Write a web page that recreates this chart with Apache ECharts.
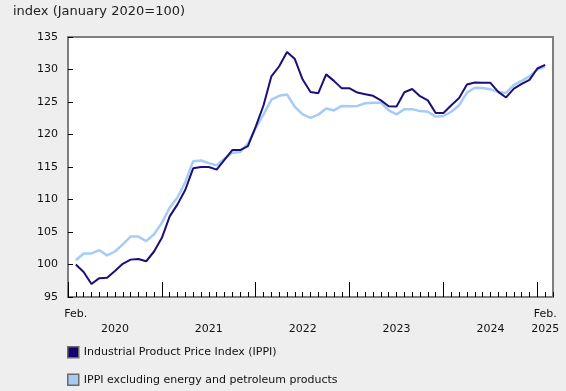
<!DOCTYPE html>
<html>
<head>
<meta charset="utf-8">
<script src="https://cdn.jsdelivr.net/npm/echarts@6/dist/echarts.min.js"></script>
<style>
html,body{margin:0;padding:0;background:#eeeeee;}
#chart{width:566px;height:391px;}
</style>
</head>
<body>
<div id="chart"></div>
<script>
// Months Feb 2020 .. Feb 2025 (61 points); axis position 0 = Jan 2020
var startIndex = 1;
var ippi = [
  100.0, 98.85, 97.0, 97.9, 97.95, 99.0, 100.1, 100.75, 100.85, 100.5, 102.0, 104.1,
  107.4, 109.25, 111.5, 114.8, 115.0, 115.0, 114.6, 116.1, 117.6, 117.6, 118.2, 121.2,
  124.5, 128.95, 130.5, 132.7, 131.6, 128.45, 126.55, 126.35, 129.25, 128.25, 127.1, 127.1,
  126.45, 126.2, 125.95, 125.25, 124.35, 124.3, 126.5, 127.0, 125.9, 125.25, 123.3, 123.3,
  124.5, 125.6, 127.7, 128.0, 127.95, 127.95, 126.55, 125.7, 127.05, 127.8, 128.4, 130.15,
  130.7
];
var ippiExEnergy = [
  100.65, 101.7, 101.7, 102.2, 101.4, 102.0, 103.1, 104.3, 104.3, 103.6, 104.65, 106.4,
  108.75, 110.3, 112.7, 115.9, 116.0, 115.6, 115.25, 116.3, 117.2, 117.3, 118.6, 121.0,
  123.1, 125.35, 125.95, 126.15, 124.25, 123.1, 122.55, 123.05, 124.0, 123.7, 124.4, 124.35,
  124.4, 124.8, 124.9, 124.9, 123.7, 123.1, 123.9, 123.9, 123.6, 123.5, 122.75, 122.85,
  123.5, 124.5, 126.45, 127.2, 127.15, 126.95, 126.55, 126.4, 127.65, 128.25, 128.95, 130.0,
  130.45
];
var seriesNames = ['Industrial Product Price Index (IPPI)', 'IPPI excluding energy and petroleum products'];
var yearLabels = ['2020', '2021', '2022', '2023', '2024'];
var firstLabel = 'Feb.';
var lastLabel = 'Feb.\n2025';
var yTicks = [95, 100, 105, 110, 115, 120, 125, 130, 135];
var titleText = 'index (January 2020=100)';

function toPairs(arr) {
  return arr.map(function (v, i) { return [startIndex + i, v]; });
}
var lastPos = startIndex + ippi.length - 1;
var axisMax = lastPos + 1;
var monthSlots = [];
for (var m = 0; m <= axisMax; m++) monthSlots.push(String(m));

var FONT = 'DejaVu Sans';
var chart = echarts.init(document.getElementById('chart'), null, {renderer: 'canvas'});
chart.setOption({
  backgroundColor: '#eeeeee',
  animation: false,
  textStyle: {fontFamily: FONT},
  title: {
    text: titleText, left: 13, top: 5, padding: 0,
    textStyle: {fontFamily: FONT, fontSize: 13, fontWeight: 'normal', color: '#222'}
  },
  legend: {
    orient: 'vertical', left: 67, top: 346, padding: 0,
    itemWidth: 11, itemHeight: 11, itemGap: 15, icon: 'rect',
    textStyle: {fontFamily: FONT, fontSize: 11, color: '#111'},
    data: [
      {name: seriesNames[0], itemStyle: {color: '#14006e', borderColor: '#6b6b6b', borderWidth: 1.5}},
      {name: seriesNames[1], itemStyle: {color: '#a6cbf7', borderColor: '#6b6b6b', borderWidth: 1.5}}
    ]
  },
  grid: {
    left: 68, top: 37, right: 13, bottom: 94,
    show: true, backgroundColor: '#ffffff', borderColor: '#7f7f7f', borderWidth: 2
  },
  xAxis: [
    {
      type: 'value', min: 0, max: axisMax, interval: 1,
      axisLine: {show: false}, splitLine: {show: false},
      axisTick: {show: false},
      axisLabel: {
        show: true, margin: 10, fontFamily: FONT, fontSize: 11, color: '#111', lineHeight: 15,
        showMinLabel: true, showMaxLabel: true,
        formatter: function (v) {
          if (v === startIndex) return firstLabel;
          if (v === lastPos) return lastLabel;
          if ((v - 6) % 12 === 0) {
            var k = (v - 6) / 12;
            if (k >= 0 && k < yearLabels.length) return '\n' + yearLabels[k];
          }
          return '';
        }
      }
    },
    {
      type: 'category', data: monthSlots, boundaryGap: false, position: 'bottom',
      axisLine: {show: false}, splitLine: {show: false}, axisLabel: {show: false},
      axisTick: {show: true, inside: true, length: 5, interval: 0, lineStyle: {color: '#000', width: 1}}
    },
    {
      type: 'category', data: monthSlots, boundaryGap: false, position: 'bottom',
      axisLine: {show: false}, splitLine: {show: false}, axisLabel: {show: false},
      axisTick: {show: true, inside: true, length: 15,
        interval: function (idx) { return idx % 12 === 0; },
        lineStyle: {color: '#000', width: 1}}
    }
  ],
  yAxis: {
    type: 'value', min: yTicks[0], max: yTicks[yTicks.length - 1], interval: 5,
    axisLine: {show: false}, splitLine: {show: false},
    axisTick: {show: true, inside: true, length: 5, lineStyle: {color: '#000', width: 1}},
    axisLabel: {margin: 10, fontFamily: FONT, fontSize: 11, color: '#111'}
  },
  series: [
    {
      name: seriesNames[1], type: 'line', data: toPairs(ippiExEnergy), showSymbol: false,
      symbol: 'none', lineStyle: {color: '#a6cbf7', width: 2.5}, itemStyle: {color: '#a6cbf7'}, z: 2
    },
    {
      name: seriesNames[0], type: 'line', data: toPairs(ippi), showSymbol: false,
      symbol: 'none', lineStyle: {color: '#1c0f78', width: 2}, itemStyle: {color: '#14006e'}, z: 3
    }
  ]
});
</script>
</body>
</html>
